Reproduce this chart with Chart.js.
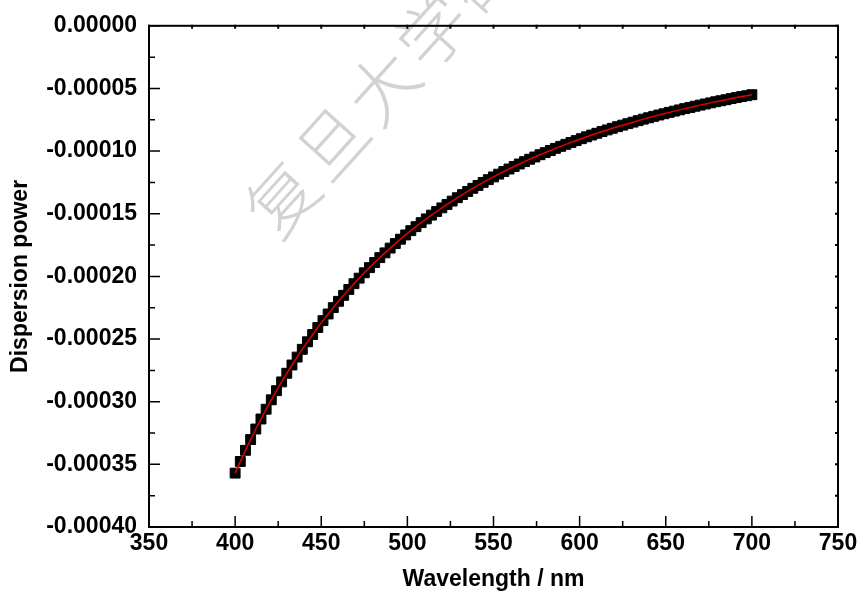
<!DOCTYPE html>
<html lang="zh">
<head>
<meta charset="UTF-8">
<title>Dispersion power</title>
<style>
    body { margin: 0; background: #fff; }
    canvas { display: block; }
</style>
<script src="https://cdn.jsdelivr.net/npm/chart.js"></script>
</head>
<body>
<canvas id="chart" width="863" height="599"></canvas>
<script>
const wavelengths = [
    400, 403, 406, 409, 412, 415, 418, 421, 424, 427,
    430, 433, 436, 439, 442, 445, 448, 451, 454, 457,
    460, 463, 466, 469, 472, 475, 478, 481, 484, 487,
    490, 493, 496, 499, 502, 505, 508, 511, 514, 517,
    520, 523, 526, 529, 532, 535, 538, 541, 544, 547,
    550, 553, 556, 559, 562, 565, 568, 571, 574, 577,
    580, 583, 586, 589, 592, 595, 598, 601, 604, 607,
    610, 613, 616, 619, 622, 625, 628, 631, 634, 637,
    640, 643, 646, 649, 652, 655, 658, 661, 664, 667,
    670, 673, 676, 679, 682, 685, 688, 691, 694, 697,
    700
];
const dispersion = [
    -357.0e-6, -347.7e-6, -338.8e-6, -330.2e-6, -321.8e-6, -313.8e-6, -306.0e-6, -298.5e-6, -291.2e-6, -284.2e-6,
    -277.3e-6, -270.7e-6, -264.4e-6, -258.2e-6, -252.2e-6, -246.4e-6, -240.8e-6, -235.3e-6, -230.0e-6, -224.9e-6,
    -219.9e-6, -215.1e-6, -210.4e-6, -205.8e-6, -201.4e-6, -197.1e-6, -193.0e-6, -188.9e-6, -185.0e-6, -181.2e-6,
    -177.4e-6, -173.8e-6, -170.3e-6, -166.9e-6, -163.5e-6, -160.3e-6, -157.1e-6, -154.1e-6, -151.1e-6, -148.2e-6,
    -145.3e-6, -142.6e-6, -139.9e-6, -137.2e-6, -134.7e-6, -132.2e-6, -129.7e-6, -127.4e-6, -125.0e-6, -122.8e-6,
    -120.6e-6, -118.4e-6, -116.3e-6, -114.3e-6, -112.3e-6, -110.3e-6, -108.4e-6, -106.5e-6, -104.7e-6, -102.9e-6,
    -101.2e-6, -99.5e-6, -97.8e-6, -96.2e-6, -94.6e-6, -93.1e-6, -91.6e-6, -90.1e-6, -88.6e-6, -87.2e-6,
    -85.8e-6, -84.4e-6, -83.1e-6, -81.8e-6, -80.5e-6, -79.3e-6, -78.1e-6, -76.9e-6, -75.7e-6, -74.5e-6,
    -73.4e-6, -72.3e-6, -71.2e-6, -70.2e-6, -69.1e-6, -68.1e-6, -67.1e-6, -66.1e-6, -65.2e-6, -64.2e-6,
    -63.3e-6, -62.4e-6, -61.5e-6, -60.6e-6, -59.8e-6, -59.0e-6, -58.1e-6, -57.3e-6, -56.5e-6, -55.8e-6,
    -55.0e-6
];

const xTicks = [350, 400, 450, 500, 550, 600, 650, 700, 750];
const xMinorTicks = [375, 425, 475, 525, 575, 625, 675, 725];
const yTicks = [0, -0.00005, -0.0001, -0.00015, -0.0002, -0.00025, -0.0003, -0.00035, -0.0004];
const yMinorTicks = [-0.000025, -0.000075, -0.000125, -0.000175, -0.000225, -0.000275, -0.000325, -0.000375];

const xTitle = 'Wavelength / nm';
const yTitle = 'Dispersion power';
const watermark = '复旦大学硕士学位论文';

const points = wavelengths.map((w, i) => ({ x: w, y: dispersion[i] }));
const labelFont = { family: '"Liberation Sans", Arial, sans-serif', size: 23, weight: 'bold' };

// faint diagonal watermark behind the plot
const watermarkPlugin = {
    id: 'watermark',
    beforeDraw(chart) {
        const ctx = chart.ctx;
        const ang = -48 * Math.PI / 180;
        ctx.save();
        ctx.fillStyle = '#d2d2d2';
        ctx.font = '300 70px "Noto Sans CJK SC"';
        ctx.textAlign = 'center';
        ctx.textBaseline = 'middle';
        [...watermark].forEach((ch, i) => {
            ctx.save();
            ctx.translate(282 + i * 75 * Math.cos(ang), 198 + i * 75 * Math.sin(ang));
            ctx.rotate(ang);
            ctx.fillText(ch, 0, 0);
            ctx.restore();
        });
        ctx.restore();
    }
};

// box frame + inward ticks
const framePlugin = {
    id: 'frame',
    afterDraw(chart) {
        const { ctx, chartArea: a, scales: { x, y } } = chart;
        ctx.save();
        ctx.strokeStyle = '#000';
        ctx.lineWidth = 2;
        ctx.strokeRect(a.left, a.top, a.right - a.left, a.bottom - a.top);

        ctx.lineWidth = 1.5;
        ctx.beginPath();
        xTicks.forEach(v => {
            const px = x.getPixelForValue(v);
            ctx.moveTo(px, a.bottom); ctx.lineTo(px, a.bottom - 11);
        });
        xMinorTicks.forEach(v => {
            const px = x.getPixelForValue(v);
            ctx.moveTo(px, a.bottom); ctx.lineTo(px, a.bottom - 6);
        });
        yTicks.forEach(v => {
            const py = y.getPixelForValue(v);
            ctx.moveTo(a.left, py); ctx.lineTo(a.left + 11, py);
        });
        yMinorTicks.forEach(v => {
            const py = y.getPixelForValue(v);
            ctx.moveTo(a.left, py); ctx.lineTo(a.left + 6, py);
        });
        ctx.stroke();

        ctx.lineWidth = 2;
        ctx.beginPath();
        xTicks.concat(xMinorTicks).forEach(v => {
            const px = x.getPixelForValue(v);
            ctx.moveTo(px, a.top - 1); ctx.lineTo(px, a.top + 3);
        });
        yTicks.concat(yMinorTicks).forEach(v => {
            const py = y.getPixelForValue(v);
            ctx.moveTo(a.right + 1, py); ctx.lineTo(a.right - 3, py);
        });
        ctx.stroke();
        ctx.restore();
    }
};

new Chart(document.getElementById('chart'), {
    type: 'scatter',
    data: {
        datasets: [
            {
                // fit line, drawn on top of the markers
                data: points,
                showLine: true,
                borderColor: '#e00000',
                borderWidth: 1.5,
                pointRadius: 0,
                fill: false
            },
            {
                data: points,
                showLine: false,
                pointStyle: 'rect',
                pointRadius: 7,
                backgroundColor: '#000',
                borderColor: '#000',
                borderWidth: 1
            }
        ]
    },
    options: {
        responsive: false,
        animation: false,
        devicePixelRatio: 1,
        layout: { padding: { top: 22, right: 25, left: 0, bottom: 0 } },
        plugins: {
            legend: { display: false },
            tooltip: { enabled: false }
        },
        scales: {
            x: {
                type: 'linear',
                min: 350,
                max: 750,
                afterBuildTicks: s => { s.ticks = xTicks.map(v => ({ value: v })); },
                afterFit: s => { s.height = 72; },
                grid: { display: false, drawTicks: false, tickLength: 0 },
                border: { display: false },
                ticks: { font: labelFont, color: '#000', padding: 3, maxRotation: 0, autoSkip: false },
                title: { display: true, text: xTitle, font: labelFont, color: '#000', padding: { top: 0, bottom: 6 } }
            },
            y: {
                type: 'linear',
                min: -0.0004,
                max: 0,
                afterBuildTicks: s => { s.ticks = yTicks.map(v => ({ value: v })); },
                afterFit: s => { s.width = 149; },
                grid: { display: false, drawTicks: false, tickLength: 0 },
                border: { display: false },
                ticks: { font: labelFont, color: '#000', padding: 12, autoSkip: false, callback: v => v.toFixed(5) },
                title: { display: true, text: yTitle, font: labelFont, color: '#000', padding: { top: 7, bottom: 0 } }
            }
        }
    },
    plugins: [watermarkPlugin, framePlugin]
});
</script>
</body>
</html>
